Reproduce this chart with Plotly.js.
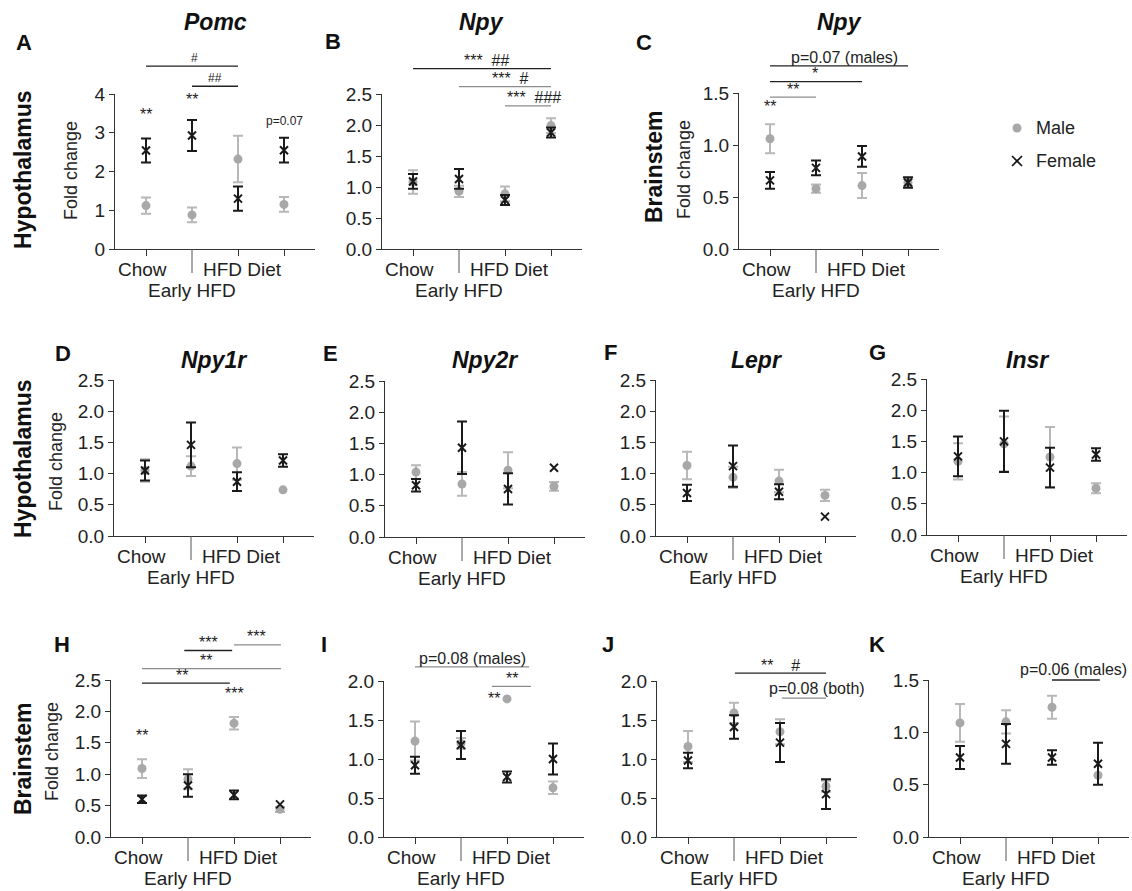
<!DOCTYPE html>
<html><head><meta charset="utf-8">
<script src="https://cdn.plot.ly/plotly-3.0.1.min.js"></script>
<style>html,body{margin:0;padding:0;background:#fff}#chart{width:1132px;height:891px}</style>
</head><body><div id="chart"></div>
<script>
// ---------------- DATA ----------------
const categories = ['Chow', 'Chow + Early HFD', 'HFD Diet', 'HFD Diet + Early HFD'];
const groupTickLabels = ['Chow', 'HFD Diet'];
const groupAxisLabel = 'Early HFD';
const seriesNames = ['Male', 'Female'];

// A  Pomc (hypothalamus)
const pomcMale = [1.12, 0.88, 2.32, 1.15];
const pomcMaleErr = [0.21, 0.19, 0.60, 0.19];
const pomcFemale = [2.54, 2.93, 1.30, 2.55];
const pomcFemaleErr = [0.31, 0.40, 0.31, 0.32];
// B  Npy (hypothalamus)
const npyHypMale = [1.08, 0.93, 0.89, 1.99];
const npyHypMaleErr = [0.19, 0.09, 0.12, 0.12];
const npyHypFemale = [1.09, 1.13, 0.79, 1.88];
const npyHypFemaleErr = [0.12, 0.16, 0.08, 0.08];
// C  Npy (brainstem)
const npyBsMale = [1.06, 0.58, 0.61, 0.64];
const npyBsMaleErr = [0.14, 0.04, 0.12, 0.04];
const npyBsFemale = [0.66, 0.78, 0.89, 0.64];
const npyBsFemaleErr = [0.08, 0.07, 0.10, 0.05];
// D  Npy1r
const npy1rMale = [1.05, 1.12, 1.16, 0.74];
const npy1rMaleErr = [0.18, 0.16, 0.26, NaN];
const npy1rFemale = [1.05, 1.46, 0.87, 1.21];
const npy1rFemaleErr = [0.16, 0.36, 0.15, 0.10];
// E  Npy2r
const npy2rMale = [1.04, 0.85, 1.07, 0.81];
const npy2rMaleErr = [0.11, 0.19, 0.29, 0.07];
const npy2rFemale = [0.83, 1.43, 0.77, 1.11];
const npy2rFemaleErr = [0.10, 0.42, 0.25, NaN];
// F  Lepr
const leprMale = [1.13, 0.94, 0.88, 0.65];
const leprMaleErr = [0.22, 0.17, 0.18, 0.09];
const leprFemale = [0.69, 1.12, 0.71, 0.31];
const leprFemaleErr = [0.13, 0.33, 0.12, NaN];
// G  Insr
const insrMale = [1.18, 1.46, 1.25, 0.75];
const insrMaleErr = [0.29, 0.44, 0.48, 0.08];
const insrFemale = [1.26, 1.50, 1.08, 1.29];
const insrFemaleErr = [0.32, 0.49, 0.32, 0.10];
// H  brainstem
const hMale = [1.09, 0.92, 1.81, 0.44];
const hMaleErr = [0.15, 0.16, 0.10, 0.04];
const hFemale = [0.60, 0.82, 0.67, 0.52];
const hFemaleErr = [0.06, 0.18, 0.07, NaN];
// I  brainstem
const iMale = [1.23, 1.20, 1.77, 0.63];
const iMaleErr = [0.25, 0.07, NaN, 0.08];
const iFemale = [0.92, 1.18, 0.77, 1.00];
const iFemaleErr = [0.11, 0.18, 0.07, 0.20];
// J  brainstem
const jMale = [1.16, 1.59, 1.35, 0.65];
const jMaleErr = [0.20, 0.13, 0.16, 0.07];
const jFemale = [0.98, 1.41, 1.21, 0.55];
const jFemaleErr = [0.10, 0.15, 0.25, 0.19];
// K  brainstem
const kMale = [1.09, 1.10, 1.24, 0.59];
const kMaleErr = [0.18, 0.11, 0.11, NaN];
const kFemale = [0.76, 0.89, 0.76, 0.70];
const kFemaleErr = [0.11, 0.19, 0.07, 0.20];

const panelTitles = ['Pomc', 'Npy', 'Npy', 'Npy1r', 'Npy2r', 'Lepr', 'Insr', '', '', '', ''];
const panelLetters = ['A','B','C','D','E','F','G','H','I','J','K'];
const yMax = [4, 2.5, 1.5, 2.5, 2.5, 2.5, 2.5, 2.5, 2.0, 2.0, 1.5];

// ---------------- LAYOUT GEOMETRY (pixels) ----------------
const W = 1132, H = 891;
const XR = [1 - 31/46, 4 + 31/46];
const geo = [
  {l:115, r:315, t:94,  b:249},
  {l:382, r:582, t:94,  b:249},
  {l:739, r:939, t:93,  b:249},
  {l:114, r:314, t:380, b:536},
  {l:385, r:585, t:381, b:537},
  {l:656, r:856, t:380, b:536},
  {l:927, r:1127,t:379, b:535},
  {l:111, r:311, t:680, b:837},
  {l:384, r:584, t:681, b:837},
  {l:657, r:857, t:681, b:837},
  {l:929, r:1129,t:680, b:837}
];
const series = [
  [pomcMale, pomcMaleErr, pomcFemale, pomcFemaleErr],
  [npyHypMale, npyHypMaleErr, npyHypFemale, npyHypFemaleErr],
  [npyBsMale, npyBsMaleErr, npyBsFemale, npyBsFemaleErr],
  [npy1rMale, npy1rMaleErr, npy1rFemale, npy1rFemaleErr],
  [npy2rMale, npy2rMaleErr, npy2rFemale, npy2rFemaleErr],
  [leprMale, leprMaleErr, leprFemale, leprFemaleErr],
  [insrMale, insrMaleErr, insrFemale, insrFemaleErr],
  [hMale, hMaleErr, hFemale, hFemaleErr],
  [iMale, iMaleErr, iFemale, iFemaleErr],
  [jMale, jMaleErr, jFemale, jFemaleErr],
  [kMale, kMaleErr, kFemale, kFemaleErr]
];

// significance brackets (data coordinates of each panel)
const BLK = '#222', GRY = '#8c8c8c';
const brackets = [
  [ {x0:1, x1:3, y:4.72, text:'#', tx:2.05, c:BLK, fs:12}, {x0:2, x1:3, y:4.2, text:'##', tx:2.5, c:BLK, fs:12} ],
  [ {x0:1, x1:4, y:2.91, text:'***  ##', tx:2.6, c:BLK}, {x0:2, x1:4, y:2.62, text:'***  #', tx:3.12, c:GRY}, {x0:3, x1:4, y:2.31, text:'***  ###', tx:3.62, c:GRY} ],
  [ {x0:1, x1:4, y:1.76, text:'p=0.07 (males)', tx:2.62, c:BLK, fs:16}, {x0:1, x1:3, y:1.61, text:'*', tx:1.98, c:BLK}, {x0:1, x1:2, y:1.46, text:'**', tx:1.5, c:GRY} ],
  [], [], [], [],
  [ {x0:1.92, x1:2.96, y:2.97, text:'***', tx:2.44, c:BLK}, {x0:3.0, x1:4.02, y:3.06, text:'***', tx:3.48, c:GRY},
    {x0:1, x1:4.02, y:2.68, text:'**', tx:2.4, c:GRY}, {x0:1, x1:2.91, y:2.45, text:'**', tx:1.86, c:BLK} ],
  [ {x0:1, x1:3.48, y:2.18, text:'p=0.08 (males)', tx:2.24, c:GRY, fs:16}, {x0:2.67, x1:3.52, y:1.93, text:'**', tx:3.11, c:GRY} ],
  [ {x0:2.02, x1:4.0, y:2.10, text:'**    #', tx:3.0, c:BLK}, {x0:3.04, x1:4.0, y:1.78, text:'p=0.08 (both)', tx:3.8, ty:1.906, c:GRY, fs:16} ],
  [ {x0:3.0, x1:4.04, y:1.5, text:'p=0.06 (males)', tx:3.47, ty:1.60, c:BLK, fs:16} ]
];
const starNotes = [
  [ {x:1, y:3.48, text:'**'}, {x:2, y:3.85, text:'**'}, {x:4, y:3.3, text:'p=0.07', fs:12} ],
  [], [ {x:1, y:1.37, text:'**'} ], [], [], [], [],
  [ {x:1, y:1.62, text:'**'}, {x:3, y:2.28, text:'***'} ],
  [ {x:2.72, y:1.77, text:'**'} ],
  [], []
];

// ---------------- BUILD ----------------
const FONT = 'Liberation Sans, Arial, Helvetica, sans-serif';
const MALE_C = '#a8a8a8', MALE_ERR = '#b8b8b8', FEM_C = '#1a1a1a';
const xPos = categories.map((c, i) => i + 1);

function pxX(p) { return p / W; }
function pxY(p) { return 1 - p / H; }
function dX(g, x) { return pxX(g.l + (x - XR[0]) / (XR[1] - XR[0]) * (g.r - g.l)); }
function dYpx(g, y, ym) { return g.b - y / ym * (g.b - g.t); }
function dY(g, y, ym) { return pxY(dYpx(g, y, ym)); }

const traces = [];
const layout = {
  width: W, height: H, margin: {l:0, r:0, t:0, b:0},
  paper_bgcolor: '#fff', plot_bgcolor: 'rgba(0,0,0,0)',
  showlegend: false, font: {family: FONT, color: '#222'},
  annotations: [], shapes: []
};
const ann = layout.annotations, shp = layout.shapes;

geo.forEach((g, i) => {
  const k = i === 0 ? '' : String(i + 1);
  const ym = yMax[i];
  const [m, me, f, fe] = series[i];
  traces.push({
    type: 'scatter', mode: 'markers', name: seriesNames[0], x: xPos, y: m,
    xaxis: 'x' + k, yaxis: 'y' + k, cliponaxis: false,
    marker: {symbol: 'circle', size: 9, color: MALE_C},
    error_y: {type: 'data', array: me, visible: true, color: MALE_ERR, thickness: 2, width: 5}
  });
  traces.push({
    type: 'scatter', mode: 'markers', name: seriesNames[1], x: xPos, y: f,
    xaxis: 'x' + k, yaxis: 'y' + k, cliponaxis: false,
    marker: {symbol: 'x-thin', size: 8, color: FEM_C, line: {color: FEM_C, width: 2}},
    error_y: {type: 'data', array: fe, visible: true, color: FEM_C, thickness: 2, width: 5}
  });
  layout['xaxis' + k] = {
    domain: [pxX(g.l), pxX(g.r)], range: XR, anchor: 'y' + k,
    showline: true, linecolor: '#333', linewidth: 1, ticks: 'outside', ticklen: 6,
    tickcolor: '#333', tickwidth: 1, tickvals: [1, 3, 4], showticklabels: false,
    showgrid: false, zeroline: false, fixedrange: true
  };
  layout['yaxis' + k] = {
    domain: [pxY(g.b), pxY(g.t)], range: [0, ym], anchor: 'x' + k,
    showline: true, linecolor: '#333', linewidth: 1, ticks: 'outside', ticklen: 5,
    tickcolor: '#333', tickwidth: 1, dtick: ym === 4 ? 1 : 0.5,
    tickformat: ym === 4 ? 'd' : '.1f', tickfont: {size: 19, color: '#222', family: FONT},
    showgrid: false, zeroline: false, fixedrange: true
  };
  // divider tick between the two groups
  shp.push({type:'line', xref:'paper', yref:'paper', x0: dX(g, 2), x1: dX(g, 2),
    y0: pxY(g.b), y1: pxY(g.b + 24), line: {color: '#555', width: 1}});
  // group labels
  ann.push({xref:'paper', yref:'paper', x: dX(g, 0.93), y: pxY(g.b + 20), text: groupTickLabels[0],
    showarrow:false, xanchor:'center', yanchor:'middle', font:{size:19, color:'#222'}});
  ann.push({xref:'paper', yref:'paper', x: dX(g, 3.1), y: pxY(g.b + 20), text: groupTickLabels[1],
    showarrow:false, xanchor:'center', yanchor:'middle', font:{size:19, color:'#222'}});
  ann.push({xref:'paper', yref:'paper', x: dX(g, 2), y: pxY(g.b + 41), text: groupAxisLabel,
    showarrow:false, xanchor:'center', yanchor:'middle', font:{size:19, color:'#222'}});
  // brackets
  brackets[i].forEach(bk => {
    shp.push({type:'line', xref:'paper', yref:'paper', x0: dX(g, bk.x0), x1: dX(g, bk.x1),
      y0: dY(g, bk.y, ym), y1: dY(g, bk.y, ym), line: {color: bk.c, width: 1.3}});
    const ty = bk.ty !== undefined ? dY(g, bk.ty, ym) : pxY(dYpx(g, bk.y, ym) - 8);
    ann.push({xref:'paper', yref:'paper', x: dX(g, bk.tx), y: ty, text: bk.text,
      showarrow:false, xanchor:'center', yanchor:'middle', font:{size: bk.fs || 16, color:'#222'}});
  });
  starNotes[i].forEach(s => {
    ann.push({xref:'paper', yref:'paper', x: dX(g, s.x), y: dY(g, s.y, ym), text: s.text,
      showarrow:false, xanchor:'center', yanchor:'middle', font:{size: s.fs || 16, color:'#222'}});
  });
  // titles
  if (panelTitles[i]) {
    ann.push({xref:'paper', yref:'paper', x: dX(g, 2.5), y: pxY(i < 3 ? 22 : 360),
      text: '<b><i>' + panelTitles[i] + '</i></b>', showarrow:false, xanchor:'center', yanchor:'middle',
      font:{size:23, color:'#111'}});
  }
});

// panel letters (pixel positions)
const letterPos = [[24,42],[333,41],[644,42],[63,353],[330,353],[610,352],[877,352],[62,644],[324,644],[608,644],[877,644]];
letterPos.forEach((p, i) => ann.push({xref:'paper', yref:'paper', x: pxX(p[0]), y: pxY(p[1]),
  text: '<b>' + panelLetters[i] + '</b>', showarrow:false, xanchor:'center', yanchor:'middle',
  font:{size:22, color:'#111'}}));

// row labels & y titles
const rowLabels = [
  {text:'Hypothalamus', x:23, y:170}, {text:'Brainstem', x:654, y:167},
  {text:'Hypothalamus', x:23, y:459}, {text:'Brainstem', x:23, y:759}
];
rowLabels.forEach(r => ann.push({xref:'paper', yref:'paper', x: pxX(r.x), y: pxY(r.y),
  text: '<b>' + r.text + '</b>', textangle: -90, showarrow:false, xanchor:'center', yanchor:'middle',
  font:{size:23, color:'#111'}}));
const yTitles = [[71,171],[684,170],[56,462],[52,752]];
yTitles.forEach(p => ann.push({xref:'paper', yref:'paper', x: pxX(p[0]), y: pxY(p[1]),
  text: 'Fold change', textangle: -90, showarrow:false, xanchor:'center', yanchor:'middle',
  font:{size:18, color:'#222'}}));

// legend
shp.push({type:'circle', xref:'paper', yref:'paper', xsizemode:'pixel', ysizemode:'pixel',
  xanchor: pxX(1017), yanchor: pxY(128), x0:-4.5, x1:4.5, y0:-4.5, y1:4.5,
  fillcolor: MALE_C, line:{width:0}});
shp.push({type:'line', xref:'paper', yref:'paper', x0:pxX(1012), x1:pxX(1022), y0:pxY(156), y1:pxY(166), line:{color:'#111', width:1.6}});
shp.push({type:'line', xref:'paper', yref:'paper', x0:pxX(1012), x1:pxX(1022), y0:pxY(166), y1:pxY(156), line:{color:'#111', width:1.6}});
ann.push({xref:'paper', yref:'paper', x: pxX(1034), y: pxY(128), text: seriesNames[0], showarrow:false,
  xanchor:'left', yanchor:'middle', font:{size:18, color:'#222'}});
ann.push({xref:'paper', yref:'paper', x: pxX(1034), y: pxY(161), text: seriesNames[1], showarrow:false,
  xanchor:'left', yanchor:'middle', font:{size:18, color:'#222'}});

Plotly.newPlot('chart', traces, layout, {displayModeBar: false, staticPlot: true});
</script>
</body></html>
